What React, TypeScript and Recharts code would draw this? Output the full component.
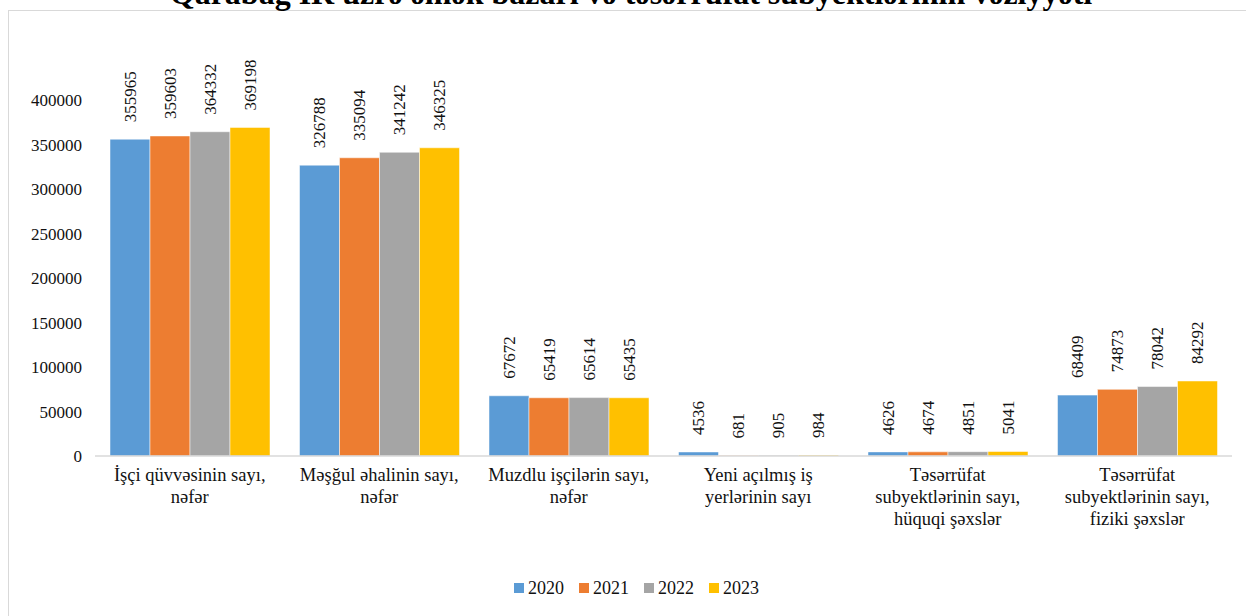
import React from 'react';
import { BarChart, Bar, XAxis, YAxis, Legend, LabelList } from 'recharts';

// categories (line breaks as in the picture)
const categories = [
  'İşçi qüvvəsinin sayı,\nnəfər',
  'Məşğul əhalinin sayı,\nnəfər',
  'Muzdlu işçilərin sayı,\nnəfər',
  'Yeni açılmış iş\nyerlərinin sayı',
  'Təsərrüfat\nsubyektlərinin sayı,\nhüquqi şəxslər',
  'Təsərrüfat\nsubyektlərinin sayı,\nfiziki şəxslər',
];

const years = ['2020', '2021', '2022', '2023'];
const colors = ['#5B9BD5', '#ED7D31', '#A5A5A5', '#FFC000'];

const values2020 = [355965, 326788, 67672, 4536, 4626, 68409];
const values2021 = [359603, 335094, 65419, 681, 4674, 74873];
const values2022 = [364332, 341242, 65614, 905, 4851, 78042];
const values2023 = [369198, 346325, 65435, 984, 5041, 84292];

const yTicks = [0, 50000, 100000, 150000, 200000, 250000, 300000, 350000, 400000];

const title = 'Qarabağ İR üzrə əmək bazarı və təsərrüfat subyektlərinin vəziyyəti';

const FONT = 'Times New Roman, Liberation Serif, serif';

const series = [values2020, values2021, values2022, values2023];
const data = categories.map((name, i) => {
  const row: { [k: string]: string | number } = { name };
  years.forEach((y, j) => {
    row[y] = series[j][i];
  });
  return row;
});

function CategoryTick(props: any) {
  const { x, y, payload } = props;
  const lines = String(payload.value).split('\n');
  return (
    <text x={x} y={y + 17} textAnchor="middle" style={{ fontFamily: FONT }} fontSize={18.5} fill="#111">
      {lines.map((line, i) => (
        <tspan key={i} x={x} dy={i === 0 ? 0 : 22}>
          {line}
        </tspan>
      ))}
    </text>
  );
}

function ValueLabel(props: any) {
  const { x, y, width, value } = props;
  const cx = x + width / 2;
  const cy = y - 17;
  return (
    <text
      x={cx}
      y={cy}
      dy="0.33em"
      transform={`rotate(-90, ${cx}, ${cy})`}
      textAnchor="start"
      style={{ fontFamily: FONT }}
      fontSize={17}
      fill="#111"
    >
      {value}
    </text>
  );
}

function LegendContent() {
  return (
    <div
      style={{
        display: 'flex',
        justifyContent: 'flex-start',
        paddingLeft: 514,
        height: 24,
        alignItems: 'center',
        fontFamily: FONT,
        fontSize: 18,
        color: '#111',
      }}
    >
      {years.map((y, i) => (
        <div key={y} style={{ display: 'flex', alignItems: 'center', width: 65 }}>
          <span style={{ width: 10, height: 10, background: colors[i], marginRight: 4 }} />
          <span>{y}</span>
        </div>
      ))}
    </div>
  );
}

export default function App() {
  return (
    <div
      style={{
        position: 'absolute',
        left: 0,
        top: 0,
        width: 1246,
        height: 616,
        overflow: 'hidden',
        background: '#fff',
        fontFamily: FONT,
      }}
    >
      <div
        style={{
          position: 'absolute',
          left: 8,
          top: 10,
          width: 1300,
          height: 700,
          border: '1.5px solid #D9D9D9',
        }}
      />
      <div
        style={{
          position: 'absolute',
          left: 8,
          top: -23,
          width: 1246,
          textAlign: 'center',
          fontFamily: FONT,
          fontWeight: 'bold',
          fontSize: 32,
          lineHeight: '32px',
          whiteSpace: 'nowrap',
        }}
      >
        {title}
      </div>
      <div style={{ position: 'absolute', left: 0, top: 0 }}>
        <BarChart
          width={1246}
          height={616}
          data={data}
          margin={{ top: 100, right: 14, left: 0, bottom: 16 }}
          barCategoryGap={15}
          barGap={0}
          style={{ fontFamily: FONT }}
        >
          <XAxis
            dataKey="name"
            interval={0}
            height={120}
            tickLine={false}
            axisLine={{ stroke: '#D9D9D9', strokeWidth: 1.5 }}
            tick={<CategoryTick />}
          />
          <YAxis
            width={95}
            domain={[0, 400000]}
            ticks={yTicks}
            axisLine={false}
            tickLine={false}
            tickMargin={7}
            tick={{ fontSize: 17, fill: '#111', style: { fontFamily: FONT } }}
          />
          <Legend
            verticalAlign="bottom"
            wrapperStyle={{ left: 0, width: 1246 }}
            content={<LegendContent />}
          />
          {years.map((y, i) => (
            <Bar
              key={y}
              dataKey={y}
              fill={colors[i]}
              stroke="#fff"
              strokeWidth={0.5}
              isAnimationActive={false}
            >
              <LabelList dataKey={y} content={<ValueLabel />} />
            </Bar>
          ))}
        </BarChart>
      </div>
    </div>
  );
}
